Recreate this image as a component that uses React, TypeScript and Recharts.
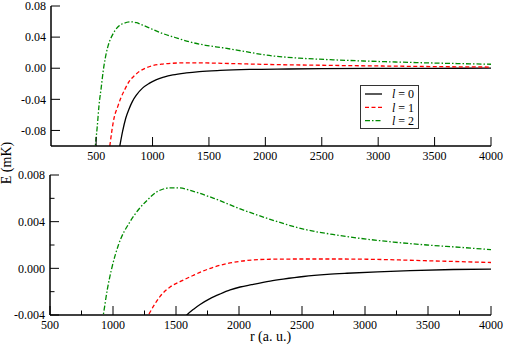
import React from 'react';
import { LineChart, Line, XAxis, YAxis, Legend } from 'recharts';

const FONT = 'Liberation Serif, Times New Roman, serif';

// ---------- series meta ----------
const seriesNames = ['l = 0', 'l = 1', 'l = 2'];
const seriesColors = ['#000000', '#ff0000', '#008b00'];
const seriesDashes = ['', '4 2.5', '5 2 1.5 2'];

// ---------- top panel ----------
const topL0R = [700, 710, 735, 763, 790, 822, 860, 911, 970, 1030, 1100, 1180, 1300, 1415, 1600, 1860, 2200, 2500, 3000, 3500, 4000];
const topL0E = [-0.108, -0.1, -0.081, -0.064, -0.053, -0.0426, -0.034, -0.0256, -0.0195, -0.015, -0.0115, -0.0086, -0.006, -0.0043, -0.0028, -0.0016, -0.001, -0.0006, -0.0003, -0.0001, 0];

const topL1R = [612, 621, 640, 659, 690, 719, 755, 793, 840, 882, 940, 1000, 1080, 1178, 1300, 1474, 1700, 2000, 2500, 3000, 3500, 4000];
const topL1E = [-0.108, -0.1, -0.08, -0.064, -0.05, -0.0383, -0.027, -0.017, -0.0095, -0.0043, 0.0003, 0.0033, 0.0052, 0.0064, 0.007, 0.0068, 0.006, 0.0049, 0.0038, 0.0029, 0.0021, 0.0015];

const topL2R = [488, 493, 510, 526, 545, 562, 580, 600, 620, 644, 670, 704, 750, 808, 860, 911, 1000, 1089, 1200, 1326, 1470, 1622, 1800, 2000, 2300, 2600, 2870, 3200, 3460, 3700, 4000];
const topL2E = [-0.108, -0.1, -0.075, -0.047, -0.025, -0.0043, 0.012, 0.0256, 0.035, 0.0426, 0.049, 0.0545, 0.058, 0.0596, 0.0585, 0.0555, 0.05, 0.0447, 0.0395, 0.034, 0.0295, 0.0263, 0.022, 0.017, 0.013, 0.0108, 0.0093, 0.0078, 0.0068, 0.006, 0.0051];

const topXTicks = [500, 1000, 1500, 2000, 2500, 3000, 3500, 4000];
const topYTicks = [-0.08, -0.04, 0, 0.04, 0.08];

// ---------- bottom panel ----------
const botL0R = [1560, 1586, 1640, 1691, 1770, 1850, 1930, 2009, 2100, 2247, 2350, 2512, 2700, 2856, 3100, 3360, 3700, 4000];
const botL0E = [-0.0043, -0.004, -0.0035, -0.0031, -0.0026, -0.0022, -0.00185, -0.0016, -0.0014, -0.0011, -0.00093, -0.0007, -0.00052, -0.00042, -0.0003, -0.0002, -0.0001, -0.00006];

const botL1R = [1260, 1281, 1330, 1374, 1453, 1540, 1638, 1700, 1800, 1900, 2009, 2247, 2512, 2800, 3015, 3492, 4000];
const botL1E = [-0.0044, -0.004, -0.0031, -0.0024, -0.0016, -0.0011, -0.0006, -0.0003, 0.0001, 0.0004, 0.0006, 0.00078, 0.0008, 0.0008, 0.00078, 0.00065, 0.0005];

const botL2R = [915, 923, 955, 990, 1043, 1135, 1200, 1268, 1340, 1400, 1450, 1520, 1638, 1800, 2009, 2247, 2512, 2777, 3015, 3227, 3492, 3757, 4000];
const botL2E = [-0.0045, -0.004, -0.0018, 0, 0.002, 0.004, 0.005, 0.0058, 0.0065, 0.0068, 0.0069, 0.0069, 0.0066, 0.006, 0.0051, 0.0042, 0.00336, 0.00285, 0.0025, 0.00225, 0.002, 0.0018, 0.0016];

const botXMajor = [500, 1000, 1500, 2000, 2500, 3000, 3500, 4000];
const botXTicks = [500, 750, 1000, 1250, 1500, 1750, 2000, 2250, 2500, 2750, 3000, 3250, 3500, 3750, 4000];
const botYMajor = [-0.004, 0, 0.004, 0.008];
const botYTicks = [-0.004, -0.002, 0, 0.002, 0.004, 0.006, 0.008];

const toPts = (rs: number[], es: number[]) => rs.map((r, i) => ({ r, E: es[i] }));

const topSeries = [toPts(topL0R, topL0E), toPts(topL1R, topL1E), toPts(topL2R, topL2E)];
const botSeries = [toPts(botL0R, botL0E), toPts(botL1R, botL1E), toPts(botL2R, botL2E)];

const MAJ = 9;
const MIN = 4.5;
const GAP = 5;

type Side = 'bottom' | 'left' | 'top' | 'right';

function makeTick(side: Side, majors: number[], fmt: ((v: number) => string) | null) {
  return (props: any) => {
    const { x, y, payload } = props;
    const v = payload.value as number;
    const isMajor = majors.some((m) => Math.abs(m - v) < 1e-9);
    const len = isMajor ? MAJ : MIN;
    const st = { stroke: '#000', strokeWidth: 1 };
    if (side === 'bottom') {
      const ay = y - GAP;
      return (
        <g>
          <line x1={x} y1={ay} x2={x} y2={ay - len} {...st} />
          {fmt && isMajor ? (
            <text x={x} y={y} dy="0.71em" textAnchor="middle" fill="#000" fontFamily={FONT} fontSize={12}>
              {fmt(v)}
            </text>
          ) : null}
        </g>
      );
    }
    if (side === 'left') {
      const ax = x + GAP;
      return (
        <g>
          <line x1={ax} y1={y} x2={ax + len} y2={y} {...st} />
          {fmt && isMajor ? (
            <text x={x} y={y} dy="0.35em" textAnchor="end" fill="#000" fontFamily={FONT} fontSize={12}>
              {fmt(v)}
            </text>
          ) : null}
        </g>
      );
    }
    if (side === 'top') {
      return (
        <g>
          <line x1={x} y1={y} x2={x} y2={y + len} {...st} />
        </g>
      );
    }
    return (
      <g>
        <line x1={x} y1={y} x2={x - len} y2={y} {...st} />
      </g>
    );
  };
}

const axisLine = { stroke: '#000', strokeWidth: 1.5 };

function LegendBox() {
  return (
    <svg width={60} height={45} style={{ display: 'block' }}>
      <rect x={0.5} y={0.5} width={58} height={43} fill="#fff" stroke="#333" strokeWidth={1} />
      {seriesNames.map((n, i) => {
        const cy = 9 + i * 13.3;
        const parts = n.split(' ');
        return (
          <g key={n}>
            <line
              x1={5}
              x2={22}
              y1={cy}
              y2={cy}
              stroke={seriesColors[i]}
              strokeWidth={1.3}
              strokeDasharray={seriesDashes[i] || undefined}
            />
            <text x={32} y={cy} dy="0.35em" fill="#000" fontFamily={FONT} fontSize={12}>
              <tspan fontStyle="italic">{parts[0]}</tspan>
              {' ' + parts.slice(1).join(' ')}
            </text>
          </g>
        );
      })}
    </svg>
  );
}

export default function App() {
  return (
    <div style={{ position: 'absolute', left: 0, top: 0, width: 505, height: 347, background: '#fff', fontFamily: FONT }}>
      <style>{'.recharts-surface{overflow:visible}'}</style>
      <div style={{ position: 'absolute', left: 0, top: 0 }}>
        <LineChart width={505} height={170} margin={{ top: 6, right: 14, bottom: 0, left: 0 }}>
          <XAxis
            xAxisId="b"
            dataKey="r"
            type="number"
            domain={[100, 4000]}
            ticks={topXTicks}
            interval={0}
            allowDataOverflow
            height={24}
            tickSize={0}
            tickMargin={GAP}
            tickLine={false}
            axisLine={axisLine}
            tick={makeTick('bottom', topXTicks, (v) => String(v))}
          />
          <XAxis
            xAxisId="t"
            orientation="top"
            type="number"
            domain={[100, 4000]}
            ticks={topXTicks}
            interval={0}
            height={0}
            tickSize={0}
            tickMargin={0}
            tickLine={false}
            axisLine={axisLine}
            tick={makeTick('top', topXTicks, null)}
          />
          <YAxis
            yAxisId="l"
            type="number"
            domain={[-0.1, 0.08]}
            ticks={topYTicks}
            interval={0}
            allowDataOverflow
            width={51}
            tickSize={0}
            tickMargin={GAP}
            tickLine={false}
            axisLine={axisLine}
            tick={makeTick('left', topYTicks, (v) => v.toFixed(2))}
          />
          <YAxis
            yAxisId="r"
            orientation="right"
            type="number"
            domain={[-0.1, 0.08]}
            ticks={topYTicks}
            interval={0}
            width={0}
            tickSize={0}
            tickMargin={0}
            tickLine={false}
            axisLine={axisLine}
            tick={makeTick('right', topYTicks, null)}
          />
          {topSeries.map((d, i) => (
            <Line
              key={'t' + i}
              xAxisId="b"
              yAxisId="l"
              data={d}
              dataKey="E"
              name={seriesNames[i]}
              type="monotone"
              stroke={seriesColors[i]}
              strokeWidth={1.3}
              strokeDasharray={seriesDashes[i] || undefined}
              dot={false}
              activeDot={false}
              isAnimationActive={false}
            />
          ))}
          <Legend
            layout="vertical"
            align="center"
            verticalAlign="middle"
            content={() => <LegendBox />}
            wrapperStyle={{ position: 'absolute', left: 360, top: 85, width: 60, height: 45 }}
          />
        </LineChart>
      </div>

      <div style={{ position: 'absolute', left: 0, top: 170 }}>
        <LineChart width={505} height={177} margin={{ top: 5, right: 14, bottom: 0, left: 0 }}>
          <XAxis
            xAxisId="b"
            dataKey="r"
            type="number"
            domain={[500, 4000]}
            ticks={botXTicks}
            interval={0}
            allowDataOverflow
            height={32}
            tickSize={0}
            tickMargin={GAP}
            tickLine={false}
            axisLine={axisLine}
            tick={makeTick('bottom', botXMajor, (v) => String(v))}
            label={{ value: 'r (a. u.)', position: 'insideBottom', offset: 6, fontSize: 14, fontFamily: FONT, fill: '#000' }}
          />
          <XAxis
            xAxisId="t"
            orientation="top"
            type="number"
            domain={[500, 4000]}
            ticks={botXTicks}
            interval={0}
            height={0}
            tickSize={0}
            tickMargin={0}
            tickLine={false}
            axisLine={axisLine}
            tick={makeTick('top', botXMajor, null)}
          />
          <YAxis
            yAxisId="l"
            type="number"
            domain={[-0.004, 0.008]}
            ticks={botYTicks}
            interval={0}
            allowDataOverflow
            width={50}
            tickSize={0}
            tickMargin={GAP}
            tickLine={false}
            axisLine={axisLine}
            tick={makeTick('left', botYMajor, (v) => v.toFixed(3))}
          />
          <YAxis
            yAxisId="r"
            orientation="right"
            type="number"
            domain={[-0.004, 0.008]}
            ticks={botYTicks}
            interval={0}
            width={0}
            tickSize={0}
            tickMargin={0}
            tickLine={false}
            axisLine={axisLine}
            tick={makeTick('right', botYMajor, null)}
          />
          {botSeries.map((d, i) => (
            <Line
              key={'b' + i}
              xAxisId="b"
              yAxisId="l"
              data={d}
              dataKey="E"
              name={seriesNames[i]}
              type="monotone"
              stroke={seriesColors[i]}
              strokeWidth={1.3}
              strokeDasharray={seriesDashes[i] || undefined}
              dot={false}
              activeDot={false}
              isAnimationActive={false}
            />
          ))}
        </LineChart>
      </div>

      <div
        style={{
          position: 'absolute',
          left: 7,
          top: 163,
          transform: 'translate(-50%, -50%) rotate(-90deg)',
          fontSize: 14,
          fontFamily: FONT,
          whiteSpace: 'nowrap',
          color: '#000',
          lineHeight: 1,
        }}
      >
        E (mK)
      </div>
    </div>
  );
}
